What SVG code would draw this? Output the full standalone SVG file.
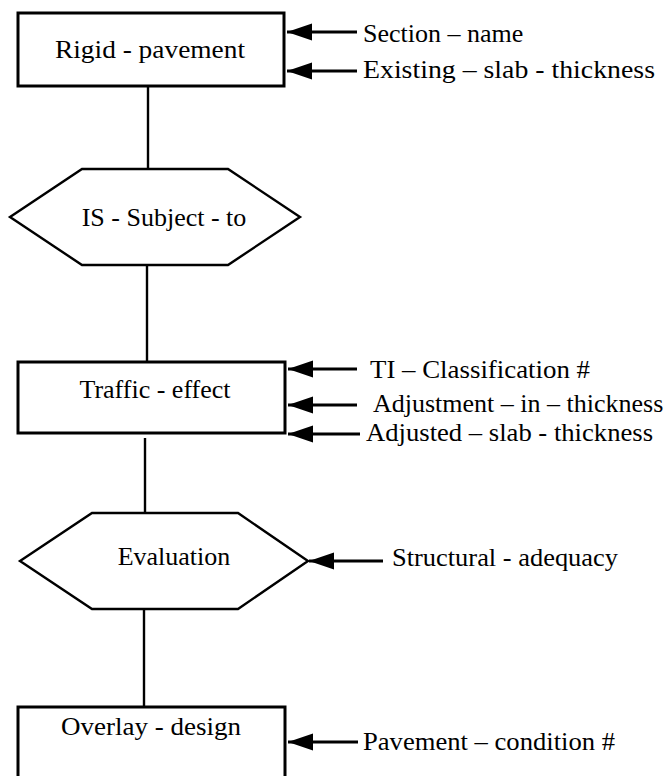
<svg xmlns="http://www.w3.org/2000/svg" width="671" height="776" viewBox="0 0 671 776">
<style>
.box{fill:#fff;stroke:#000;stroke-width:3}
.hex{fill:#fff;stroke:#000;stroke-width:2.4}
.t{font-family:"Liberation Serif","Times New Roman",serif;font-size:26px;fill:#000}
.c{text-anchor:middle}
.ln{stroke:#000;stroke-width:2.4;fill:none}
.ar{stroke:#000;stroke-width:2.8;fill:none;marker-end:url(#ah)}
</style>
<defs>
<marker id="ah" markerUnits="userSpaceOnUse" markerWidth="27" markerHeight="20" viewBox="0 -10 27 20" refX="25" refY="0" orient="auto">
<path d="M0,-8.5 L25,0 L0,8.5 Z" fill="#000"/>
</marker>
</defs>
<rect width="671" height="776" fill="#fff"/>
<g id="connectors">
<line class="ln" x1="148" y1="86" x2="148" y2="169"/>
<line class="ln" x1="147" y1="265" x2="147" y2="362"/>
<line class="ln" x1="145" y1="438" x2="145" y2="513"/>
<line class="ln" x1="144" y1="609" x2="144" y2="707"/>
<line class="ar" x1="357" y1="32" x2="287" y2="32"/>
<line class="ar" x1="357" y1="71" x2="287" y2="71"/>
<line class="ar" x1="357" y1="369" x2="288" y2="369"/>
<line class="ar" x1="357" y1="405" x2="288" y2="405"/>
<line class="ar" x1="360" y1="434" x2="288" y2="434"/>
<line class="ar" x1="383" y1="561" x2="309" y2="561"/>
<line class="ar" x1="358" y1="742" x2="288" y2="742"/>
</g>
<g id="rigid-pavement">
<rect class="box" x="18" y="13" width="266" height="73"/>
<text class="t c" x="150" y="58" textLength="190" lengthAdjust="spacingAndGlyphs">Rigid - pavement</text>
</g>
<g id="is-subject-to">
<polygon class="hex" points="82,169 228,169 300,217 228,265 82,265 10,217"/>
<text class="t c" x="164" y="226">IS - Subject - to</text>
</g>
<g id="traffic-effect">
<rect class="box" x="18" y="362" width="267" height="71"/>
<text class="t c" x="155" y="398">Traffic - effect</text>
</g>
<g id="evaluation">
<polygon class="hex" points="92,513 238,513 308,561 238,609 92,609 20,561"/>
<text class="t c" x="174" y="565">Evaluation</text>
</g>
<g id="overlay-design">
<rect class="box" x="18" y="707" width="267" height="100"/>
<text class="t c" x="151" y="735" textLength="180" lengthAdjust="spacingAndGlyphs">Overlay - design</text>
</g>
<g id="labels">
<text class="t" x="363" y="42">Section – name</text>
<text class="t" x="363" y="78" textLength="292" lengthAdjust="spacingAndGlyphs">Existing – slab - thickness</text>
<text class="t" x="370" y="378" textLength="220" lengthAdjust="spacingAndGlyphs">TI – Classification #</text>
<text class="t" x="373" y="412">Adjustment – in – thickness</text>
<text class="t" x="366" y="441" textLength="287" lengthAdjust="spacingAndGlyphs">Adjusted – slab - thickness</text>
<text class="t" x="392" y="566" textLength="226" lengthAdjust="spacingAndGlyphs">Structural - adequacy</text>
<text class="t" x="363" y="750" textLength="252" lengthAdjust="spacingAndGlyphs">Pavement – condition #</text>
</g>
</svg>
